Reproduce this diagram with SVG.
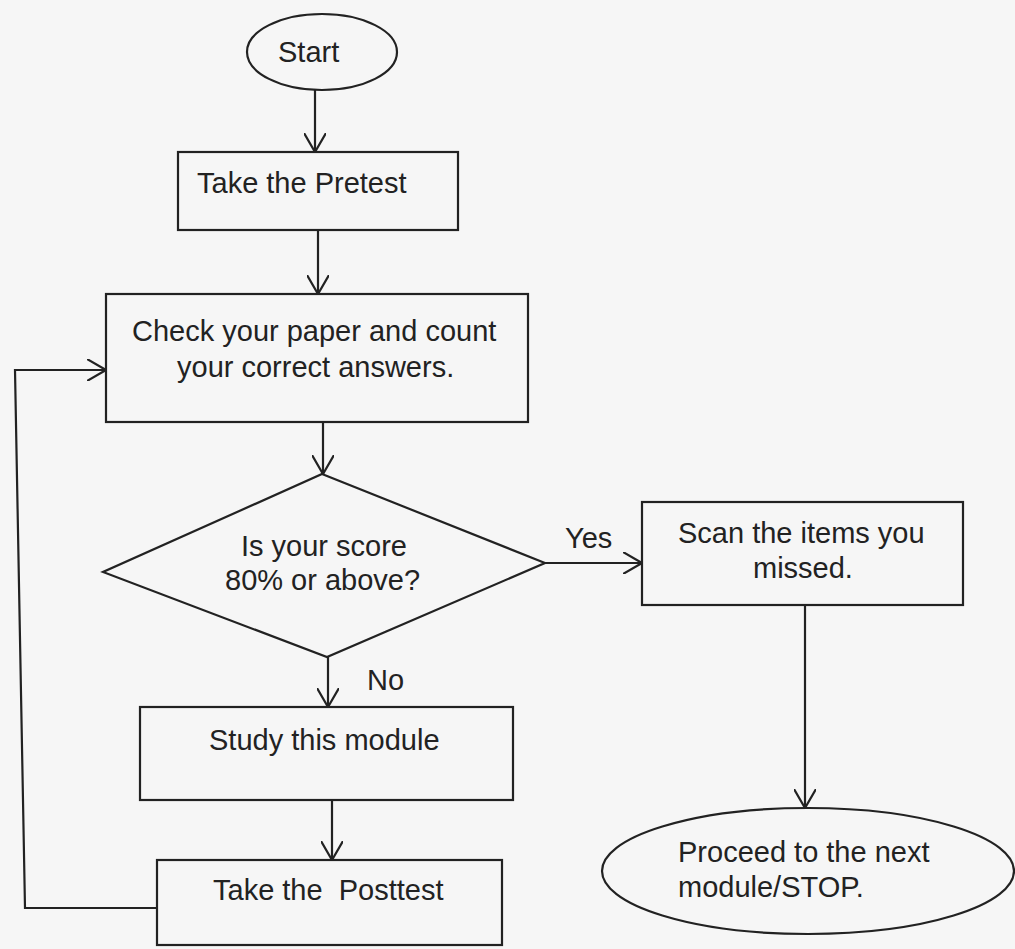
<svg xmlns="http://www.w3.org/2000/svg" width="1015" height="949" viewBox="0 0 1015 949">
<style>
.shape{fill:none;stroke:#222;stroke-width:2.2}
.conn{fill:none;stroke:#222;stroke-width:2.2}
.t{font-family:"Liberation Sans",Arial,sans-serif;font-size:29px;fill:#222;white-space:pre}
</style>
<defs>
<marker id="arr" viewBox="0 0 20 22" refX="19" refY="11" markerWidth="20" markerHeight="22" markerUnits="userSpaceOnUse" orient="auto">
<path d="M0,0 L19,11 L0,22" fill="none" stroke="#222" stroke-width="2.2"/>
</marker>
</defs>
<rect x="0" y="0" width="1015" height="949" fill="#f6f6f6"/>
<g id="connectors">
<path class="conn" d="M315,90 L315,152" marker-end="url(#arr)"/>
<path class="conn" d="M318,230 L318,294" marker-end="url(#arr)"/>
<path class="conn" d="M323,422 L323,474" marker-end="url(#arr)"/>
<path class="conn" d="M545,563 L642,563" marker-end="url(#arr)"/>
<path class="conn" d="M328,657 L328,707" marker-end="url(#arr)"/>
<path class="conn" d="M332,800 L332,860" marker-end="url(#arr)"/>
<path class="conn" d="M805,605 L805,808" marker-end="url(#arr)"/>
<path class="conn" d="M157,908 L25,908 L15,370 L106,370" marker-end="url(#arr)"/>
<text class="t" x="565" y="548">Yes</text>
<text class="t" x="367" y="690">No</text>
</g>
<g id="start">
<ellipse class="shape" cx="322" cy="52" rx="75" ry="38"/>
<text class="t" x="278" y="62">Start</text>
</g>
<g id="pretest">
<rect class="shape" x="178" y="152" width="280" height="78"/>
<text class="t" x="197" y="193">Take the Pretest</text>
</g>
<g id="check">
<rect class="shape" x="106" y="294" width="422" height="128"/>
<text class="t" x="132" y="341">Check your paper and count</text>
<text class="t" x="177" y="377">your correct answers.</text>
</g>
<g id="decision">
<polygon class="shape" points="322,474 545,563 327,657 103,572"/>
<text class="t" x="241" y="556">Is your score</text>
<text class="t" x="225" y="590">80% or above?</text>
</g>
<g id="scan">
<rect class="shape" x="642" y="502" width="321" height="103"/>
<text class="t" x="678" y="543">Scan the items you</text>
<text class="t" x="753" y="578">missed.</text>
</g>
<g id="proceed">
<ellipse class="shape" cx="808" cy="871" rx="206" ry="63"/>
<text class="t" x="678" y="862">Proceed to the next</text>
<text class="t" x="678" y="897">module/STOP.</text>
</g>
<g id="study">
<rect class="shape" x="140" y="707" width="373" height="93"/>
<text class="t" x="209" y="750">Study this module</text>
</g>
<g id="posttest">
<rect class="shape" x="157" y="860" width="345" height="85"/>
<text class="t" x="213" y="900">Take the  Posttest</text>
</g>
</svg>
